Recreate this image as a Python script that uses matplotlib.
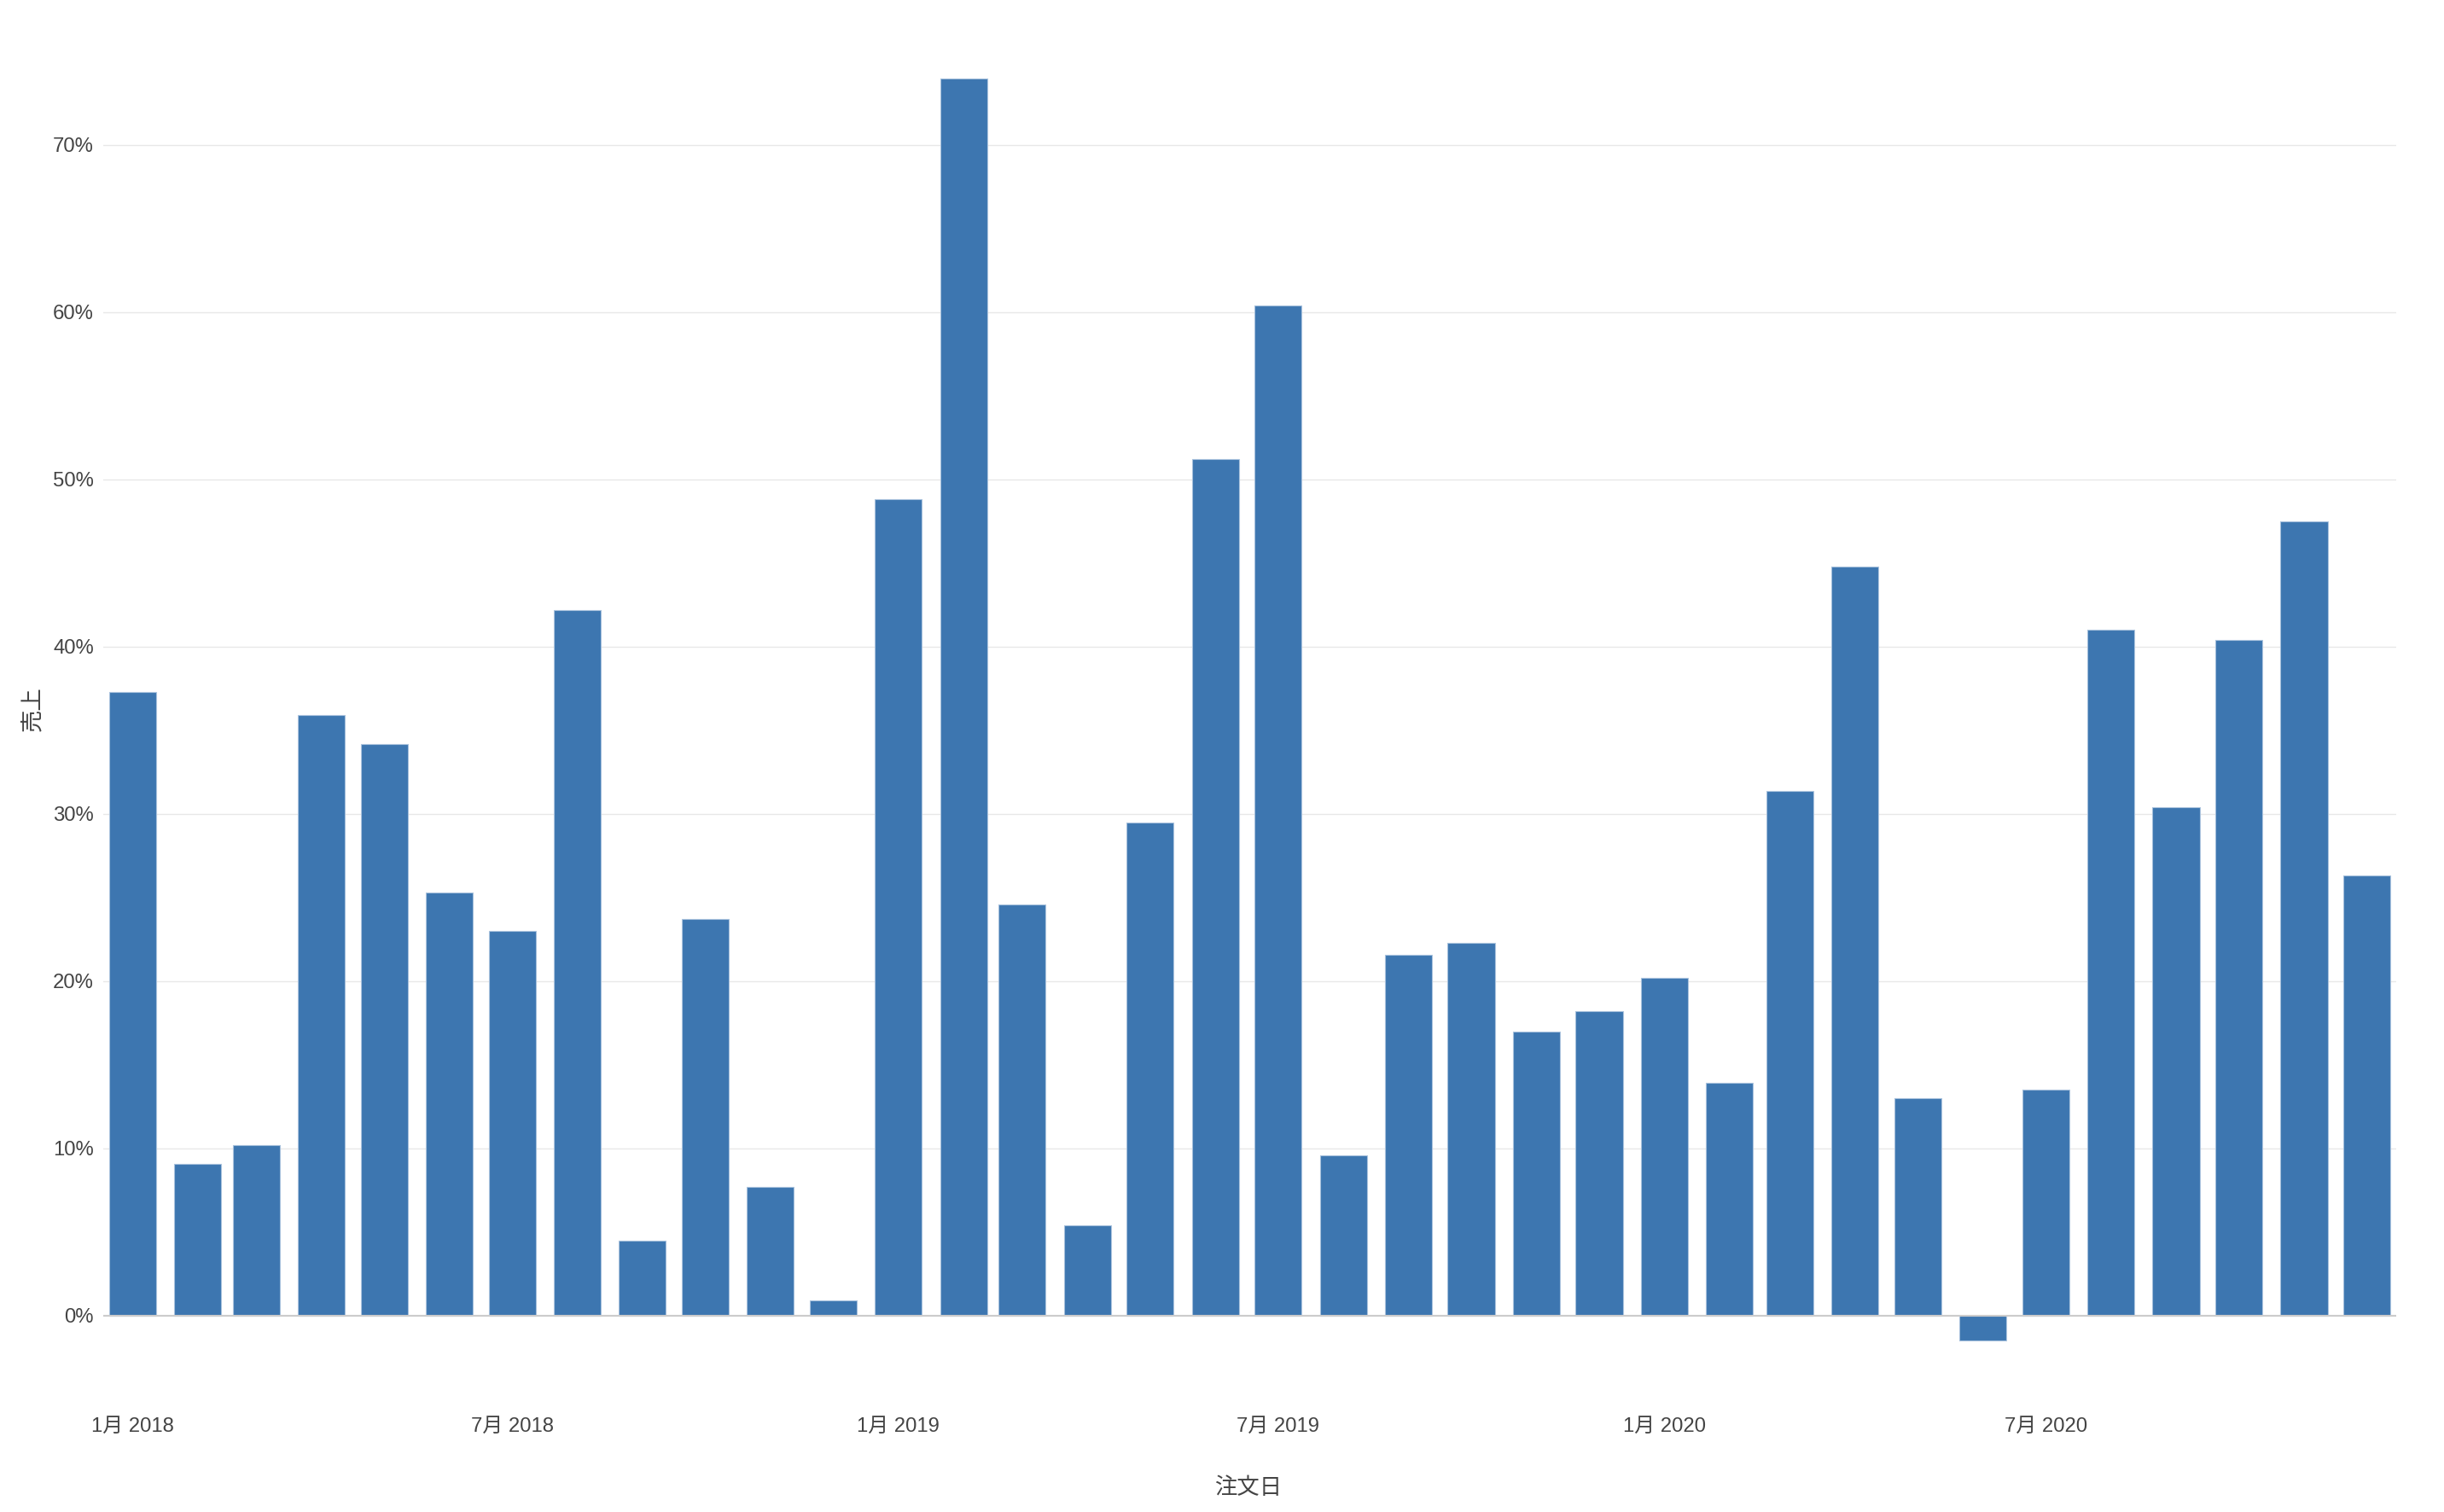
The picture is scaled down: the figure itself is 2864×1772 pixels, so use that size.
# 注文日 x 売上 monthly bar chart (plotly-like look)
import matplotlib
matplotlib.use("Agg")
from matplotlib import pyplot as plt
import matplotlib.dates as mdates
import numpy as np
import datetime as dt

# data: one value per month, Jan 2018 .. Dec 2020 (percent)
months = [dt.date(y, m, 1) for y in (2018, 2019, 2020) for m in range(1, 13)]
sales = [37.3, 9.1, 10.2, 35.9, 34.2, 25.3, 23.0, 42.2, 4.5, 23.7, 7.7, 0.9,
         48.8, 74.0, 24.6, 5.4, 29.5, 51.2, 60.4, 9.6, 21.6, 22.3, 17.0, 18.2,
         20.2, 13.9, 31.4, 44.8, 13.0, -1.5, 13.5, 41.0, 30.4, 40.4, 47.5, 26.3]
tick_dates = [dt.date(2018, 1, 1), dt.date(2018, 7, 1), dt.date(2019, 1, 1),
              dt.date(2019, 7, 1), dt.date(2020, 1, 1), dt.date(2020, 7, 1)]
tick_labels = ["1月 2018", "7月 2018", "1月 2019", "7月 2019", "1月 2020", "7月 2020"]
yticks = [0, 10, 20, 30, 40, 50, 60, 70]

plt.rcParams['font.family'] = ['Liberation Sans', 'Noto Sans CJK JP', 'DejaVu Sans']
txt = '#444444'

fig = plt.figure(figsize=(14.32, 8.86), dpi=200)
ax = fig.add_axes([0.0423, 0.0971, 0.9382, 0.8916])

x = mdates.date2num(months)
ax.bar(x, sales, width=0.8 * 28, color='#3d76b0', edgecolor='#a9c2dd', linewidth=0.4, zorder=3)

# axes styling
ax.set_xlim(x[0] - 14, x[-1] + 14)
ax.set_ylim(-2.96, 77.65)
for s in ax.spines.values():
    s.set_visible(False)
ax.set_yticks(yticks)
ax.set_yticklabels(["%d%%" % v for v in yticks])
ax.set_xticks(mdates.date2num(tick_dates))
ax.set_xticklabels(tick_labels)
ax.tick_params(axis='both', length=0, labelsize=8.6, colors=txt)
ax.tick_params(axis='x', pad=22)
ax.tick_params(axis='y', pad=4)
ax.grid(axis='y', color='#e8e8e8', linewidth=0.5, zorder=0)
ax.axhline(0, color='#cccccc', linewidth=0.75, zorder=4)

fig.text(1463 / 2864, 1 - 1744 / 1772, "注文日", ha='center', va='center', fontsize=9.5, color=txt)
fig.text(38 / 2864, 1 - 831 / 1772, "売上", ha='center', va='center', rotation=90, fontsize=9.5, color=txt)

fig.savefig("out.png", dpi=200)
